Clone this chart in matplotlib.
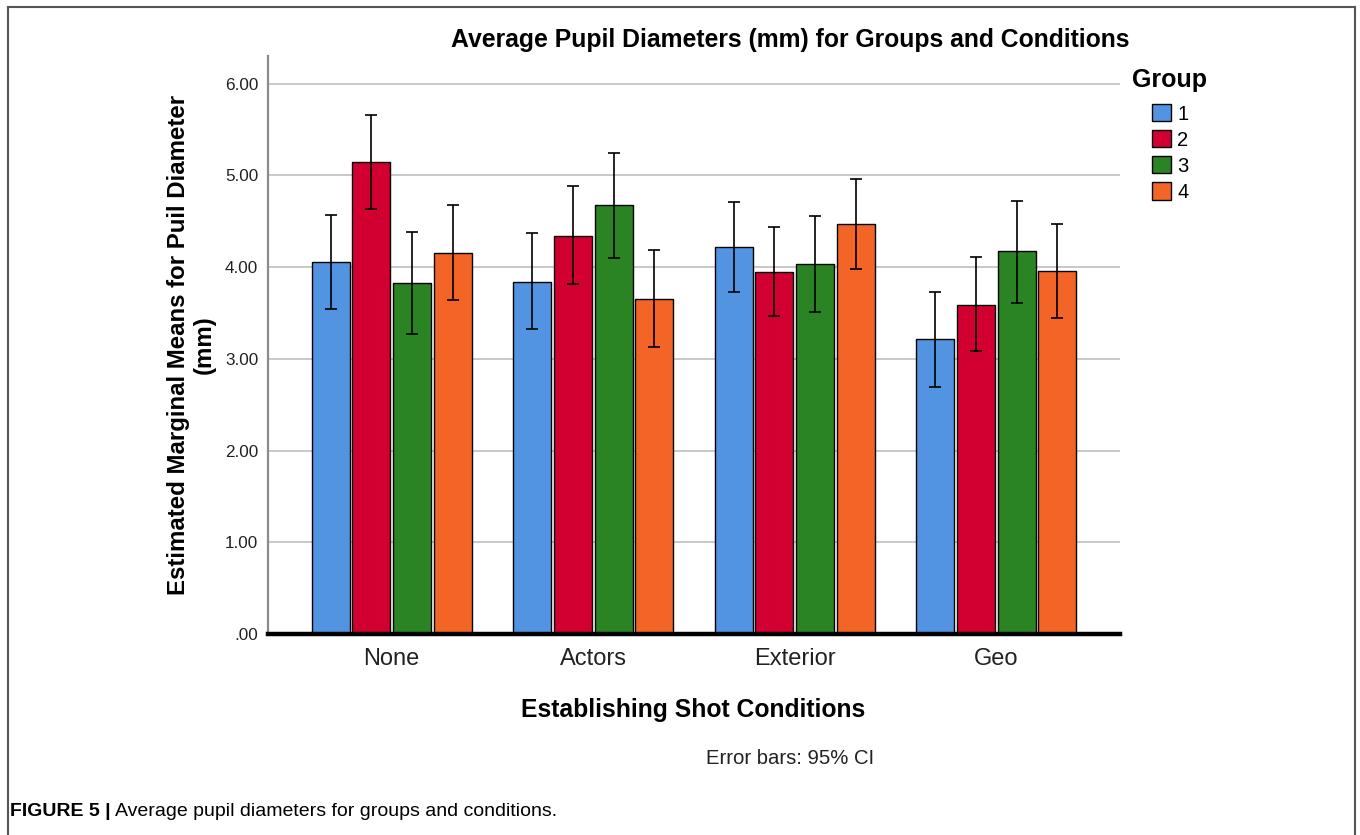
import numpy as np
import matplotlib
matplotlib.use("Agg")
import matplotlib.pyplot as plt
from matplotlib.lines import Line2D
from matplotlib.patches import Patch

plt.rcParams["font.family"] = ["Liberation Sans", "DejaVu Sans"]

conditions = ["None", "Actors", "Exterior", "Geo"]
groups = ["1", "2", "3", "4"]
colors = ["#5294E2", "#D20030", "#2A8424", "#F26526"]

# means per group, ordered by condition
means_g1 = [4.06, 3.84, 4.22, 3.21]
means_g2 = [5.14, 4.34, 3.95, 3.59]
means_g3 = [3.83, 4.68, 4.03, 4.17]
means_g4 = [4.15, 3.65, 4.47, 3.96]

# 95% CI bounds
low_g1 = [3.54, 3.32, 3.73, 2.69]
high_g1 = [4.57, 4.37, 4.71, 3.73]
low_g2 = [4.63, 3.81, 3.47, 3.08]
high_g2 = [5.66, 4.88, 4.44, 4.11]
low_g3 = [3.27, 4.10, 3.51, 3.61]
high_g3 = [4.38, 5.24, 4.56, 4.72]
low_g4 = [3.64, 3.13, 3.98, 3.44]
high_g4 = [4.68, 4.19, 4.96, 4.47]

yticks = [0, 1, 2, 3, 4, 5, 6]
ytick_labels = [".00", "1.00", "2.00", "3.00", "4.00", "5.00", "6.00"]

means = [means_g1, means_g2, means_g3, means_g4]
lows = [low_g1, low_g2, low_g3, low_g4]
highs = [high_g1, high_g2, high_g3, high_g4]

fig = plt.figure(figsize=(13.6, 8.35), dpi=100)
W, H = 1360, 835
ax = fig.add_axes([268 / W, 1 - 634 / H, (1120 - 268) / W, (634 - 56) / H])

x = np.arange(len(conditions))
step = 0.202
width = 0.189
for i in range(4):
    m = np.array(means[i])
    err = np.vstack([m - np.array(lows[i]), np.array(highs[i]) - m])
    ax.bar(x + (i - 1.5) * step, m, width, color=colors[i], edgecolor="black",
           linewidth=1, yerr=err, capsize=4.5,
           error_kw=dict(ecolor="black", elinewidth=1.2, capthick=1.2),
           zorder=3, label=groups[i])

ax.set_xlim(-0.614, 3.614)
ax.set_ylim(0, 6.3)
ax.set_yticks(yticks)
ax.set_yticklabels(ytick_labels)
ax.set_xticks(x)
ax.set_xticklabels(conditions)
ax.tick_params(axis="y", length=0, pad=7, labelsize=12.3, labelcolor="#222222")
ax.tick_params(axis="x", length=0, pad=10, labelsize=17, labelcolor="#222222")
ax.yaxis.grid(True, color="#c4c4c4", linewidth=1.3, zorder=0)
ax.set_axisbelow(True)
for s in ["top", "right"]:
    ax.spines[s].set_visible(False)
ax.spines["left"].set_color("#8a8a8a")
ax.spines["left"].set_linewidth(1.6)
ax.spines["bottom"].set_color("black")
ax.spines["bottom"].set_linewidth(3.2)
ax.spines["bottom"].set_zorder(5)

fig.text(790 / W, 1 - 40 / H, "Average Pupil Diameters (mm) for Groups and Conditions",
         ha="center", va="center", fontsize=17.8, fontweight="bold")
fig.text(693 / W, 1 - 710 / H, "Establishing Shot Conditions",
         ha="center", va="center", fontsize=17.8, fontweight="bold")
fig.text(191 / W, 1 - 345 / H, "Estimated Marginal Means for Puil Diameter\n(mm)",
         ha="center", va="center", rotation=90, fontsize=17.3, fontweight="bold",
         multialignment="center", linespacing=1.15)
fig.text(790 / W, 1 - 758 / H, "Error bars: 95% CI", ha="center", va="center",
         fontsize=14.6, color="#222222")

# legend
fig.text(1169.5 / W, 1 - 80 / H, "Group", ha="center", va="center",
         fontsize=18, fontweight="bold")
handles = [Patch(facecolor=colors[i], edgecolor="black", linewidth=1) for i in range(4)]
leg = fig.legend(handles, groups, loc="upper left",
                 bbox_to_anchor=(1152 / W, 1 - 104 / H), frameon=False,
                 fontsize=14.5, handlelength=0.95, handleheight=0.95,
                 handletextpad=0.3, labelspacing=0.32, borderaxespad=0,
                 borderpad=0)

# outer frame
frame_kw = dict(color="#555555", linewidth=1.5, transform=fig.transFigure)
fig.add_artist(Line2D([8 / W, 1355 / W], [1 - 7 / H, 1 - 7 / H], **frame_kw))
fig.add_artist(Line2D([8 / W, 8 / W], [0, 1 - 7 / H], **frame_kw))
fig.add_artist(Line2D([1355 / W, 1355 / W], [0, 1 - 7 / H], **frame_kw))

# caption
cap1 = fig.text(10 / W, 1 - 812 / H, "FIGURE 5 |", ha="left", va="center",
                fontsize=14, fontweight="bold")
fig.canvas.draw()
bb = cap1.get_window_extent()
fig.text((bb.x1 + 4) / W, 1 - 812 / H, "Average pupil diameters for groups and conditions.",
         ha="left", va="center", fontsize=14)

fig.savefig("out.png", dpi=100)
